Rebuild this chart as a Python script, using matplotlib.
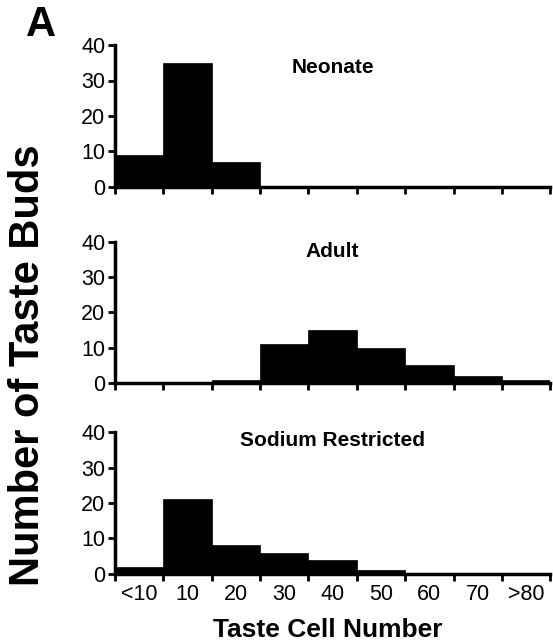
import numpy as np
import matplotlib
matplotlib.use("Agg")
from matplotlib import pyplot as plt

plt.rcParams['font.family'] = ['Liberation Sans', 'DejaVu Sans']

bins = ['<10', '10', '20', '30', '40', '50', '60', '70', '>80']
neonate = [9, 35, 7, 0, 0, 0, 0, 0, 0]
adult = [0, 0, 1, 11, 15, 10, 5, 2, 1]
sodium = [2, 21, 8, 6, 4, 1, 0, 0, 0]

panels = [('Neonate', neonate), ('Adult', adult), ('Sodium Restricted', sodium)]
boxes = [0.710, 0.405, 0.109]
title_y = [0.84, 0.93, 0.94]

fig = plt.figure(figsize=(5.53, 6.44), dpi=100)

x = np.arange(len(bins))
for (name, counts), bottom, ty in zip(panels, boxes, title_y):
    ax = fig.add_axes([0.208, bottom, 0.787, 0.220])
    ax.bar(x, counts, width=1.0, align='edge', color='black', edgecolor='black', linewidth=0.5)
    ax.set_xlim(0, len(bins))
    ax.set_ylim(0, 40)
    ax.set_yticks([0, 10, 20, 30, 40])
    ax.set_xticks(np.arange(len(bins) + 1))
    ax.set_xticklabels([])
    ax.set_xticks(x + 0.5, minor=True)
    ax.tick_params(axis='x', which='minor', length=0, labelsize=15.5, pad=7)
    ax.tick_params(axis='both', which='major', length=5, width=2, labelsize=15.5, pad=2)
    if bottom == boxes[-1]:
        ax.set_xticklabels(bins, minor=True)
    else:
        ax.set_xticklabels([], minor=True)
    for s in ['top', 'right']:
        ax.spines[s].set_visible(False)
    for s in ['left', 'bottom']:
        ax.spines[s].set_linewidth(2.5)
    ax.text(0.5, ty, name, transform=ax.transAxes, fontsize=15, fontweight='bold',
            ha='center', va='center')

fig.text(0.05, 0.433, 'Number of Taste Buds', rotation=90, fontsize=30,
         fontweight='bold', ha='center', va='center')
fig.text(0.592, 0.022, 'Taste Cell Number', fontsize=19, fontweight='bold',
         ha='center', va='center')
fig.text(0.074, 0.961, 'A', fontsize=30, fontweight='bold', ha='center', va='center')

fig.savefig('out.png', dpi=100)
